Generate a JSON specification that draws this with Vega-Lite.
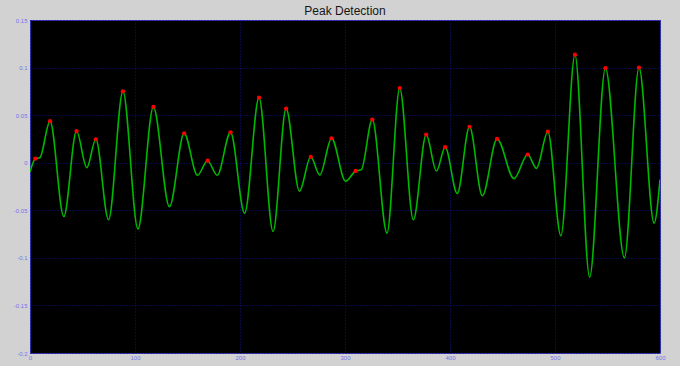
{
  "$schema": "https://vega.github.io/schema/vega-lite/v6.json",
  "width": 630,
  "height": 333,
  "autosize": {"type": "none"},
  "padding": {"left": 30, "top": 20, "right": 20, "bottom": 13},
  "background": "#d2d2d2",
  "title": {
    "text": "Peak Detection",
    "font": "Liberation Sans",
    "fontSize": 12,
    "fontWeight": "normal",
    "color": "#151515",
    "anchor": "middle",
    "offset": -1
  },
  "config": {
    "view": {"fill": "#000000", "stroke": "#3c3cb4", "strokeWidth": 1},
    "axis": {
      "grid": true,
      "gridColor": "#12128e",
      "gridDash": [1, 2],
      "gridWidth": 1,
      "gridOpacity": 1,
      "domain": false,
      "ticks": false,
      "title": null,
      "labelFont": "Liberation Sans",
      "labelFontSize": 6,
      "labelColor": "#7373ec",
      "labelFlush": false,
      "labelExpr": "replace(datum.label, '\u2212', '-')"
    }
  },
  "data": {
    "values": [
      {"x": 0, "y": -0.0098, "peak": false},
      {"x": 5.1, "y": 0.0042, "peak": true},
      {"x": 9.3, "y": 0.0052, "peak": false},
      {"x": 19.1, "y": 0.0437, "peak": true},
      {"x": 32.2, "y": -0.0567, "peak": false},
      {"x": 44.3, "y": 0.0333, "peak": true},
      {"x": 54.1, "y": -0.0052, "peak": false},
      {"x": 62.7, "y": 0.0246, "peak": true},
      {"x": 74.8, "y": -0.06, "peak": false},
      {"x": 88.5, "y": 0.075, "peak": true},
      {"x": 102.8, "y": -0.0695, "peak": false},
      {"x": 117.5, "y": 0.0586, "peak": true},
      {"x": 132.8, "y": -0.0462, "peak": false},
      {"x": 146.8, "y": 0.0308, "peak": true},
      {"x": 159.5, "y": -0.0132, "peak": false},
      {"x": 169.1, "y": 0.0021, "peak": true},
      {"x": 178.3, "y": -0.0132, "peak": false},
      {"x": 191, "y": 0.0319, "peak": true},
      {"x": 204.4, "y": -0.0531, "peak": false},
      {"x": 218.1, "y": 0.0684, "peak": true},
      {"x": 231.5, "y": -0.0723, "peak": false},
      {"x": 243.9, "y": 0.0569, "peak": true},
      {"x": 256.6, "y": -0.0299, "peak": false},
      {"x": 267.4, "y": 0.0062, "peak": true},
      {"x": 276, "y": -0.0129, "peak": false},
      {"x": 287.2, "y": 0.0256, "peak": true},
      {"x": 300.6, "y": -0.0195, "peak": false},
      {"x": 310.1, "y": -0.0087, "peak": true},
      {"x": 315.5, "y": -0.0075, "peak": false},
      {"x": 326, "y": 0.0454, "peak": true},
      {"x": 340, "y": -0.074, "peak": false},
      {"x": 352.1, "y": 0.0784, "peak": true},
      {"x": 365.1, "y": -0.06, "peak": false},
      {"x": 377.3, "y": 0.0295, "peak": true},
      {"x": 387.1, "y": -0.0087, "peak": false},
      {"x": 395.4, "y": 0.0163, "peak": true},
      {"x": 406.9, "y": -0.0323, "peak": false},
      {"x": 418.6, "y": 0.0378, "peak": true},
      {"x": 430.8, "y": -0.0348, "peak": false},
      {"x": 444.8, "y": 0.025, "peak": true},
      {"x": 461, "y": -0.0167, "peak": false},
      {"x": 474, "y": 0.0086, "peak": true},
      {"x": 482.3, "y": -0.0059, "peak": false},
      {"x": 493.2, "y": 0.0326, "peak": true},
      {"x": 505.6, "y": -0.0768, "peak": false},
      {"x": 519, "y": 0.1135, "peak": true},
      {"x": 533, "y": -0.1202, "peak": false},
      {"x": 548, "y": 0.0993, "peak": true},
      {"x": 566.1, "y": -0.1, "peak": false},
      {"x": 580, "y": 0.1, "peak": true},
      {"x": 594.4, "y": -0.0635, "peak": false},
      {"x": 600, "y": -0.0177, "peak": false}
    ]
  },
  "encoding": {
    "x": {
      "field": "x",
      "type": "quantitative",
      "scale": {"domain": [0, 600], "nice": false, "zero": false},
      "axis": {"values": [0, 100, 200, 300, 400, 500, 600], "format": "d", "labelPadding": 1}
    },
    "y": {
      "field": "y",
      "type": "quantitative",
      "scale": {"domain": [-0.2, 0.15], "nice": false, "zero": false},
      "axis": {"values": [-0.2, -0.15, -0.1, -0.05, 0, 0.05, 0.1, 0.15], "format": "~g", "labelPadding": 3}
    }
  },
  "layer": [
    {
      "mark": {"type": "line", "interpolate": "monotone", "color": "#00b800", "strokeWidth": 1.6, "clip": true}
    },
    {
      "transform": [{"filter": "datum.peak"}],
      "mark": {"type": "circle", "color": "#ff0000", "size": 18, "opacity": 1}
    }
  ]
}
